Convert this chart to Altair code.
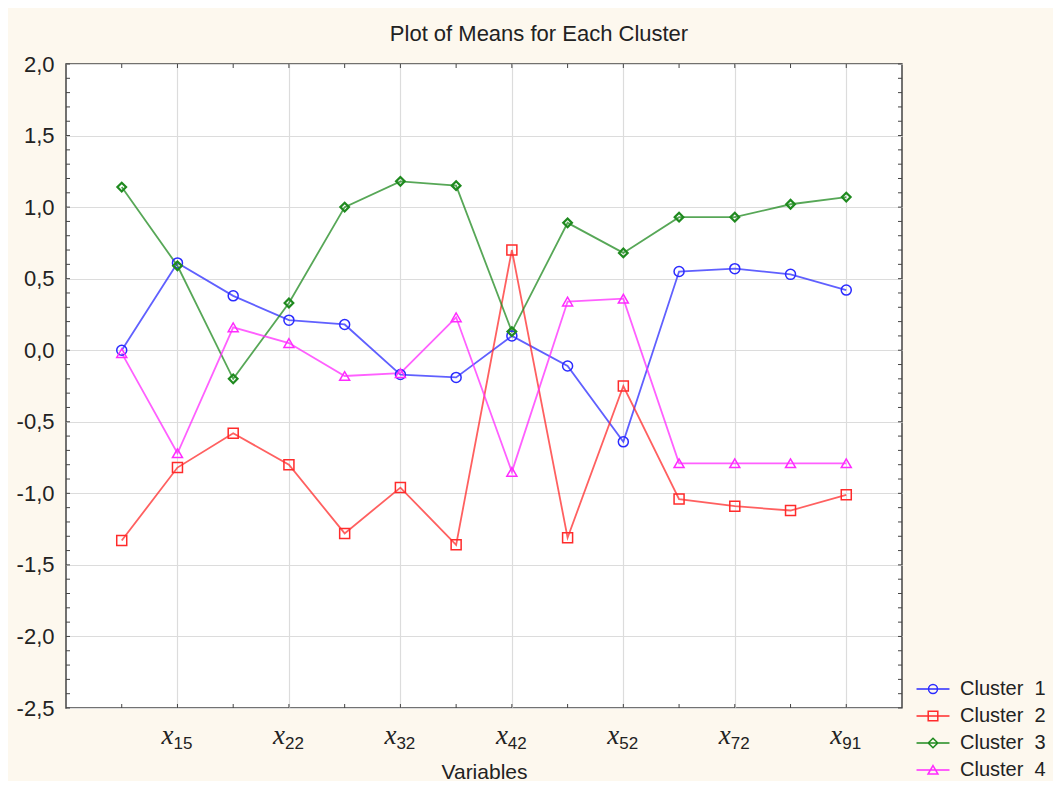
import altair as alt
import pandas as pd

# ---------------- data ----------------
positions = list(range(1, 15))
cluster_names = ["Cluster\u00a0\u00a01", "Cluster\u00a0\u00a02", "Cluster\u00a0\u00a03", "Cluster\u00a0\u00a04"]
cluster1 = [0.00, 0.61, 0.38, 0.21, 0.18, -0.17, -0.19, 0.10, -0.11, -0.64, 0.55, 0.57, 0.53, 0.42]
cluster2 = [-1.33, -0.82, -0.58, -0.80, -1.28, -0.96, -1.36, 0.70, -1.31, -0.25, -1.04, -1.09, -1.12, -1.01]
cluster3 = [1.14, 0.59, -0.20, 0.33, 1.00, 1.18, 1.15, 0.13, 0.89, 0.68, 0.93, 0.93, 1.02, 1.07]
cluster4 = [-0.02, -0.72, 0.16, 0.05, -0.18, -0.16, 0.23, -0.85, 0.34, 0.36, -0.79, -0.79, -0.79, -0.79]
series = [cluster1, cluster2, cluster3, cluster4]

label_positions = [2, 4, 6, 8, 10, 12, 14]
label_letter = ["x", "x", "x", "x", "x", "x", "x"]
label_subscripts = ["15", "22", "32", "42", "52", "72", "91"]

y_major = [-2.5, -2.0, -1.5, -1.0, -0.5, 0.0, 0.5, 1.0, 1.5, 2.0]
y_minor = [round(-2.5 + 0.1 * i, 1) for i in range(46)]

colors = ["#2b2bff", "#ff2b2b", "#1f8a1f", "#ff2bff"]
shapes = ["circle", "square", "diamond", "triangle-up"]
legend_paths = [
    "M-2.06,0H2.06M0.56,0A0.56,0.56 0 1,1 -0.56,0A0.56,0.56 0 1,1 0.56,0",
    "M-2.06,0H2.06M-0.6,-0.6H0.6V0.6H-0.6Z",
    "M-2.06,0H2.06M0,-0.6L0.6,0L0,0.6L-0.6,0Z",
    "M-2.06,0H2.06M0,-0.55L0.62,0.5H-0.62Z",
]

rows = []
for name, vals in zip(cluster_names, series):
    for p, v in zip(positions, vals):
        rows.append({"cluster": name, "pos": p, "value": v})
df = pd.DataFrame(rows)

W, H = 836, 644
FONT = "Liberation Sans"
TXT = "#222222"

xscale = alt.Scale(domain=[0, 15], nice=False, zero=False)
yscale = alt.Scale(domain=[-2.5, 2.0], nice=False, zero=False)
color_scale = alt.Scale(domain=cluster_names, range=colors)

xaxis = alt.Axis(values=label_positions, labels=False, ticks=False, domain=False,
                 grid=True, gridColor="#dcdcdc", gridWidth=1.2,
                 title="Variables", titleFont=FONT, titleFontSize=21,
                 titleFontWeight="normal", titleColor=TXT, titlePadding=53)
yaxis = alt.Axis(values=y_major, ticks=False, domain=False, grid=True,
                 gridColor="#dcdcdc", gridWidth=1.2, title=None,
                 labelExpr="(datum.value < 0 ? '-' : '') + replace(format(abs(datum.value), '.1f'), '.', ',')",
                 labelFont=FONT, labelFontSize=22, labelColor=TXT, labelPadding=12)

X = alt.X("pos:Q", scale=xscale, axis=xaxis)
Y = alt.Y("value:Q", scale=yscale, axis=yaxis)

leg = alt.Legend(orient="none", legendX=857, legendY=615, title=None,
                 symbolSize=256, symbolStrokeWidth=1.5, symbolOpacity=1,
                 labelFont=FONT, labelFontSize=20, labelColor=TXT, labelOffset=17,
                 rowPadding=7, padding=0)

base = alt.Chart(df)

legend_layer = base.mark_point(filled=False, strokeWidth=1.5, opacity=0).encode(
    x=X, y=Y,
    color=alt.Color("cluster:N", scale=color_scale, legend=leg),
    shape=alt.Shape("cluster:N", scale=alt.Scale(domain=cluster_names, range=legend_paths), legend=leg),
)

lines = base.mark_line(strokeWidth=1.8, opacity=0.75).encode(
    x=X, y=Y, color=alt.Color("cluster:N", scale=color_scale, legend=leg)
)

point_layers = []
for name, col, shp in zip(cluster_names, colors, shapes):
    size = 100 if shp != "diamond" else 75
    sw = 1.5 if shp != "diamond" else 2.2
    point_layers.append(
        base.transform_filter(alt.datum.cluster == name)
        .mark_point(filled=False, shape=shp, color=col, size=size, strokeWidth=sw, opacity=1)
        .encode(x=X, y=Y)
    )

# inner ticks
ytick_df = pd.DataFrame({"v": y_minor})
xtick_df = pd.DataFrame({"p": positions})
YT = alt.Y("v:Q", scale=yscale, axis=yaxis)
XT = alt.X("p:Q", scale=xscale, axis=xaxis)
tick_left = alt.Chart(ytick_df).mark_rule(color="#444444", strokeWidth=1).encode(
    y=YT, x=alt.value(0), x2=alt.value(4))
tick_right = alt.Chart(ytick_df).mark_rule(color="#444444", strokeWidth=1).encode(
    y=YT, x=alt.value(W - 4), x2=alt.value(W))
tick_bottom = alt.Chart(xtick_df).mark_rule(color="#444444", strokeWidth=1).encode(
    x=XT, y=alt.value(H - 4), y2=alt.value(H))
tick_top = alt.Chart(xtick_df).mark_rule(color="#444444", strokeWidth=1).encode(
    x=XT, y=alt.value(0), y2=alt.value(4))

# x tick labels: italic x with subscript
lab_df = pd.DataFrame({"p": label_positions, "letter": label_letter, "sub": label_subscripts})
lab_x = alt.Chart(lab_df).mark_text(font="Liberation Serif", fontStyle="italic", fontSize=27,
                                    align="right", baseline="alphabetic", dx=-4, color=TXT).encode(
    x=XT, y=alt.value(H + 36), text="letter:N")
lab_sub = alt.Chart(lab_df).mark_text(font="Liberation Sans Narrow, Liberation Sans", fontSize=17,
                                      align="left", baseline="alphabetic", dx=-4, color=TXT).encode(
    x=XT, y=alt.value(H + 41), text="sub:N")

chart = alt.layer(
    legend_layer, tick_left, tick_right, tick_bottom, tick_top,
    lines, *point_layers, lab_x, lab_sub
).properties(
    width=W, height=H,
    title=alt.TitleParams("Plot of Means for Each Cluster", font=FONT, fontSize=22,
                          fontWeight="normal", color=TXT, anchor="middle", dx=55, dy=33,
                          baseline="alphabetic", offset=23),
    background="#fdf8ee",
    padding={"left": 58, "top": 56, "right": 151, "bottom": 73},
    autosize=alt.AutoSizeParams(type="none"),
).configure_view(stroke="#444444", strokeWidth=1.5, fill="white")

chart.save("out.html", embed_options={"renderer": "svg", "actions": False})
